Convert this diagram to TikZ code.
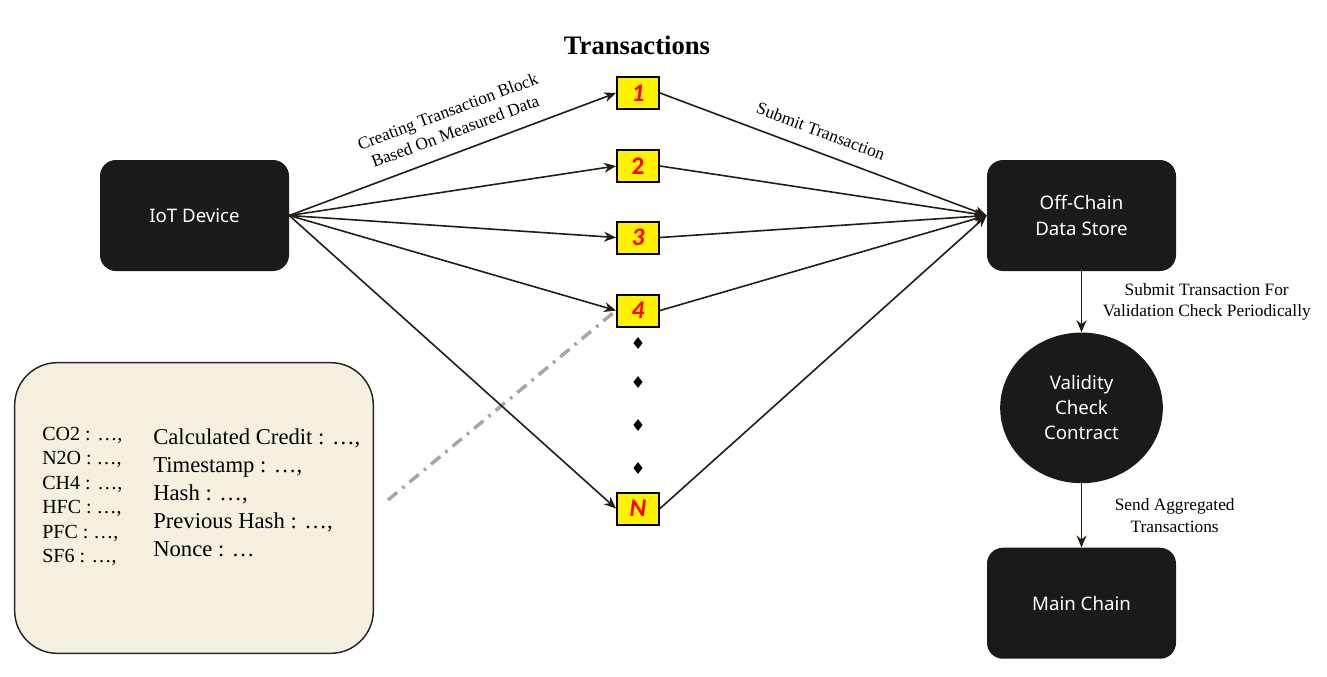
\documentclass[tikz,border=0pt]{standalone}
\usepackage{fontspec}
\setmainfont{Liberation Serif}
\newfontfamily\boxfont{Noto Sans}
\newfontfamily\numfont{Carlito}
\usetikzlibrary{positioning,shapes.geometric,arrows.meta}

\definecolor{boxblack}{HTML}{1A1A1A}
\definecolor{flowbrown}{HTML}{261C12}
\definecolor{notefill}{HTML}{F6F0E1}
\definecolor{linkgray}{HTML}{A6A6A6}

\tikzset{main/.style = {fill=boxblack, text=white, rounded corners=12pt, minimum width=141.75pt, minimum height=83.25pt, inner sep=0pt, align=center, font=\boxfont\fontsize{14}{19.5}\selectfont}}

\begin{document}
\begin{tikzpicture}[x=0.75pt, y=-0.75pt]
            % Define node styles
            \tikzstyle{tx} = [draw, line width=1.5pt, fill=yellow, minimum width=31.5pt, minimum height=24pt, inner sep=0pt, text=red, font=\numfont\bfseries\fontsize{19}{19}\selectfont]
            \tikzstyle{contract} = [ellipse, fill=boxblack, text=white, minimum width=122pt, minimum height=113pt, inner sep=0pt, align=center, font=\boxfont\fontsize{14}{18.75}\selectfont]
            \tikzstyle{dot} = [diamond, fill=black, minimum width=7pt, minimum height=9pt, inner sep=0pt]
            \tikzstyle{lbl} = [align=center, font=\fontsize{13}{16}\selectfont]
            \tikzstyle{flow} = [draw=flowbrown, line width=1.2pt, -{Stealth[length=9pt,width=7.5pt]}]
            \tikzstyle{link} = [draw=linkgray, line width=2.6pt, dash pattern=on 9pt off 5pt on 2pt off 5pt]

            \useasboundingbox (0,0) rectangle (1327,676);

            % Device and chain side
            \node[main] (iot) at (194.5,215.5) {IoT Device};
            \node[main] (store) at (1081.5,215.5) {Off-Chain\\Data Store};
            \node[contract] (check) [below=45.75pt of store] {Validity\\Check\\Contract};
            \node[main] (chain) [below=48pt of check] {Main Chain};

            % Transaction blocks (middle column, yellow)
            \node[font=\bfseries\fontsize{20}{20}\selectfont] (head) at (637,45) {Transactions};
            \node[tx] (t1) at (638,93) {\itshape 1};
            \node[tx] (t2) at (638,166) {2};
            \node[tx] (t3) at (638,237.5) {\itshape 3};
            \node[tx] (t4) at (638,310.5) {\itshape 4};
            \node[tx] (tN) at (638,508.5) {\itshape N};
            \foreach \y [count=\i] in {343,382,425,468}
                \node[dot] (d\i) at (638,\y) {};

            % Block content (rounded box, bottom left)
            \node[draw=black!85, line width=1.1pt, fill=notefill, rounded corners=32pt, minimum width=269pt, minimum height=218pt] (data) at (194,508) {};
            \node[anchor=north west, inner sep=0pt, align=left, font=\fontsize{15}{18.3}\selectfont] (gas) at (42,427)
                {CO2 : …,\\N2O : …,\\CH4 : …,\\HFC : …,\\PFC : …,\\SF6 : …,};
            \node[anchor=north west, inner sep=0pt, align=left, font=\fontsize{17}{21}\selectfont] (fields) at (153,428)
                {Calculated Credit : …,\\Timestamp : …,\\Hash : …,\\Previous Hash : …,\\Nonce : …};
            \coordinate (tip) at (388,500);
            \draw[link] (tip) -- (t4.west);

            % IoT device to transaction blocks
            \draw[flow] (iot.east) -- node[lbl, sloped, above=7pt, pos=0.53] {Creating Transaction Block\\Based On Measured Data} (t1.west);
            \foreach \t in {t2,t3,t4,tN}
                \draw[flow] (iot.east) -- (\t.west);

            % Transaction blocks to off-chain store
            \draw[flow] (t1.east) -- node[lbl, sloped, above=7pt, pos=0.47] {Submit Transaction} (store.west);
            \foreach \t in {t2,t3,t4,tN}
                \draw[flow] (\t.east) -- (store.west);

            % Store to contract to main chain
            \draw[flow] (store) -- node[lbl, right=12pt] {Submit Transaction For\\Validation Check Periodically} (check);
            \draw[flow] (check) -- node[lbl, right=21pt] {Send Aggregated\\Transactions} (chain);

        \end{tikzpicture}
\end{document}
